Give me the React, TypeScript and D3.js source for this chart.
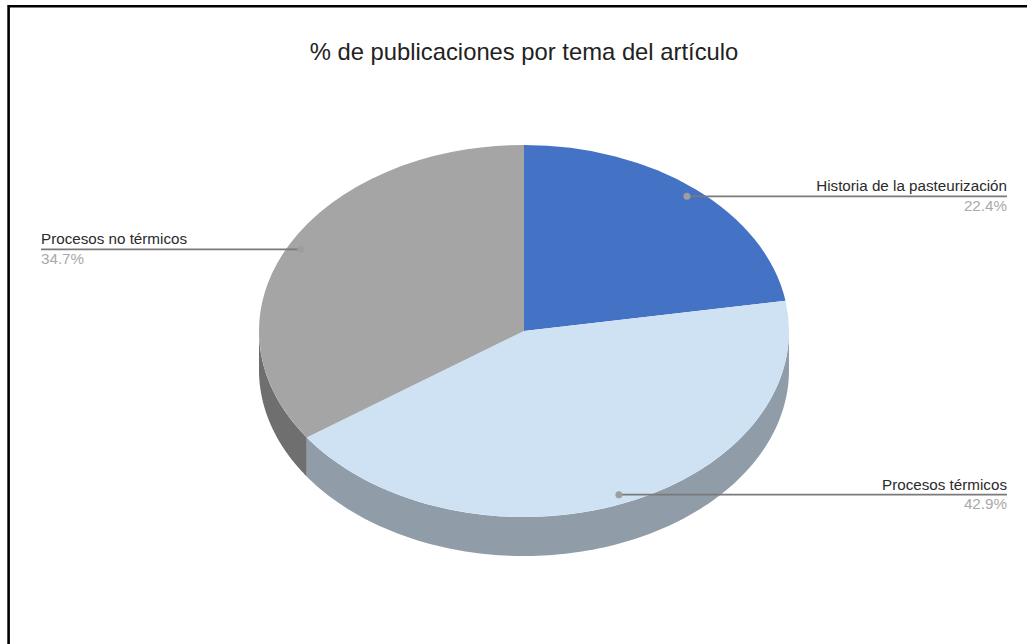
import React from "react";
import * as d3 from "d3";

const categories = ["Historia de la pasteurización", "Procesos térmicos", "Procesos no térmicos"];
const shares = [22.4, 42.9, 34.7];
const topColors = ["#4472c4", "#cfe2f3", "#a5a5a5"];
const wallColors = ["#33558f", "#909ca8", "#6f6f6f"];
const chartTitle = "% de publicaciones por tema del artículo";

const WIDTH = 1027;
const HEIGHT = 644;
const CX = 524;
const CY = 331;
const RX = 265;
const RY = 186;
const DEPTH = 39;
const FONT = "'Liberation Sans', Arial, sans-serif";

// Callout geometry for each slice: horizontal leader on the outer side of the pie.
const LEFT_EDGE = 41;
const RIGHT_EDGE = 1007;
const DOT_RADIUS = 0.95;

const slices = d3.pie<number>().sort(null).value((d) => d)(shares);
const arc = d3.arc<d3.PieArcDatum<number>>().innerRadius(0).outerRadius(RX);

const px = (a: number, r = 1) => CX + RX * r * Math.sin(a);
const py = (a: number, r = 1) => CY - RY * r * Math.cos(a);

// Visible side wall of a slice: the part of its rim on the front half of the ellipse.
function wallPath(start: number, end: number): string | null {
  const a0 = Math.max(start, Math.PI / 2);
  const a1 = Math.min(end, (3 * Math.PI) / 2);
  if (a1 <= a0) return null;
  const angles = d3.range(0, 121).map((i) => a0 + ((a1 - a0) * i) / 120);
  const top = angles.map((a) => [px(a), py(a)] as [number, number]);
  const bottom = angles
    .slice()
    .reverse()
    .map((a) => [px(a), py(a) + DEPTH] as [number, number]);
  return d3.line()([...top, ...bottom]) + "Z";
}

export default function App() {
  return (
    <svg
      width={WIDTH}
      height={HEIGHT}
      viewBox={`0 0 ${WIDTH} ${HEIGHT}`}
      style={{ position: "absolute", left: 0, top: 0, background: "#fff" }}
    >
      {/* Frame around the chart: open at the bottom and right */}
      <path d={`M8.6 ${HEIGHT}V6.2H${WIDTH}`} fill="none" stroke="#000" strokeWidth={2.6} />

      <text x={524} y={60} textAnchor="middle" fontFamily={FONT} fontSize={23.8} fill="#222">
        {chartTitle}
      </text>

      {slices.map((s, i) => {
        const d = wallPath(s.startAngle, s.endAngle);
        return d ? <path key={i} d={d} fill={wallColors[i]} /> : null;
      })}

      <g transform={`translate(${CX},${CY}) scale(1,${RY / RX})`}>
        {slices.map((s, i) => (
          <path key={i} d={arc(s) ?? ""} fill={topColors[i]} />
        ))}
      </g>

      {slices.map((s, i) => {
        const mid = (s.startAngle + s.endAngle) / 2;
        const x = px(mid, DOT_RADIUS);
        const y = py(mid, DOT_RADIUS);
        const onLeft = x < CX - 100;
        const edge = onLeft ? LEFT_EDGE : RIGHT_EDGE;
        const anchor = onLeft ? "start" : "end";
        return (
          <g key={i}>
            <line x1={x} y1={y} x2={edge} y2={y} stroke="#7a7a7a" strokeWidth={1.7} />
            <circle cx={x} cy={y} r={3.5} fill="#9e9e9e" />
            <text x={edge} y={y - 5} textAnchor={anchor} fontFamily={FONT} fontSize={15.2} fill="#2a2a2a">
              {categories[i]}
            </text>
            <text x={edge} y={y + 14.8} textAnchor={anchor} fontFamily={FONT} fontSize={15.2} fill="#a9a9a9">
              {d3.format(".1f")(shares[i])}%
            </text>
          </g>
        );
      })}
    </svg>
  );
}
